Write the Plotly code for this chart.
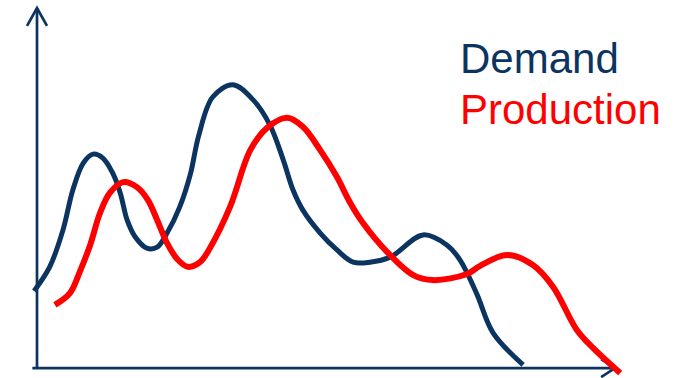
import plotly.graph_objects as go

# Demand curve (navy)
demand_x = [-0.5, 2.2, 4.5, 6.2, 8.0, 9.7, 11.4, 13.1, 14.4, 15.6, 17.0, 19.0, 20.8, 22.5,
            24.7, 26.5, 28.0, 30.4, 33.9, 37.4, 40.3, 42.6, 44.3, 46.0, 49.0, 51.9, 54.7,
            57.6, 61.1, 66.8, 70.9, 73.2, 76.1, 78.9, 84.1]
demand_y = [21.2, 27.9, 38.2, 49.3, 56.8, 59.3, 58.2, 54.0, 48.5, 40.9, 36.2, 33.1, 33.4, 37.3,
            44.6, 53.5, 64.6, 75.2, 78.6, 74.4, 67.4, 57.7, 49.3, 43.7, 37.3, 32.6, 29.2,
            29.2, 30.6, 36.8, 34.0, 29.8, 20.3, 9.5, 0.6]

# Production curve (red)
prod_x = [3.1, 5.7, 7.4, 9.2, 10.9, 12.6, 14.9, 17.3, 19.2, 20.8, 22.5, 24.4, 26.1, 28.2,
          29.9, 33.4, 36.9, 39.8, 43.3, 46.0, 49.0, 51.9, 54.2, 56.4, 60.6, 65.1, 68.5,
          74.4, 76.6, 81.3, 85.8, 89.3, 93.4, 96.2, 100.9]
prod_y = [17.3, 20.6, 26.5, 34.0, 42.9, 48.5, 51.5, 50.1, 46.5, 40.9, 34.5, 29.8, 27.9, 29.2,
          33.1, 44.6, 60.4, 66.6, 69.4, 66.9, 60.4, 52.9, 45.7, 40.1, 32.0, 25.6, 24.2,
          25.9, 28.1, 31.2, 28.4, 22.3, 10.3, 5.3, -1.7]

NAVY = "#0C3461"
RED = "#FF0000"

fig = go.Figure()
fig.add_trace(go.Scatter(x=demand_x, y=demand_y, mode="lines", name="Demand",
                         line=dict(color=NAVY, width=5, shape="spline", smoothing=1.0)))
fig.add_trace(go.Scatter(x=prod_x, y=prod_y, mode="lines", name="Production",
                         line=dict(color=RED, width=6, shape="spline", smoothing=1.0)))

# axes with open arrow heads
axis_line = dict(color=NAVY, width=2.7)
fig.add_shape(type="line", x0=0, y0=-0.3, x1=0, y1=100, xref="x", yref="y",
              line=axis_line, layer="below")
fig.add_shape(type="path", path="M -1.73,95 L 0,100 L 1.73,95", xref="x", yref="y",
              line=axis_line, layer="below")
fig.add_shape(type="line", x0=-0.8, y0=-0.3, x1=100, y1=-0.3, xref="x", yref="y",
              line=axis_line, layer="below")
fig.add_shape(type="path", path="M 97.6,2.2 L 100,-0.3 L 97.6,-2.8", xref="x", yref="y",
              line=axis_line, layer="below")

# legend texts
fig.add_annotation(x=458 / 687, y=(378 - 58) / 378, xref="paper", yref="paper",
                   text="Demand", showarrow=False, xanchor="left", yanchor="middle",
                   font=dict(family="Liberation Sans", size=42, color=NAVY))
fig.add_annotation(x=458 / 687, y=(378 - 109) / 378, xref="paper", yref="paper",
                   text="Production", showarrow=False, xanchor="left", yanchor="middle",
                   font=dict(family="Liberation Sans", size=42, color=RED))

fig.update_layout(
    width=687, height=378,
    margin=dict(l=0, r=0, t=0, b=0),
    paper_bgcolor="white", plot_bgcolor="white",
    showlegend=False,
    xaxis=dict(range=[-6.401, 112.457], visible=False, fixedrange=True),
    yaxis=dict(range=[-3.064, 102.228], visible=False, fixedrange=True),
)

fig.write_html("out.html")
